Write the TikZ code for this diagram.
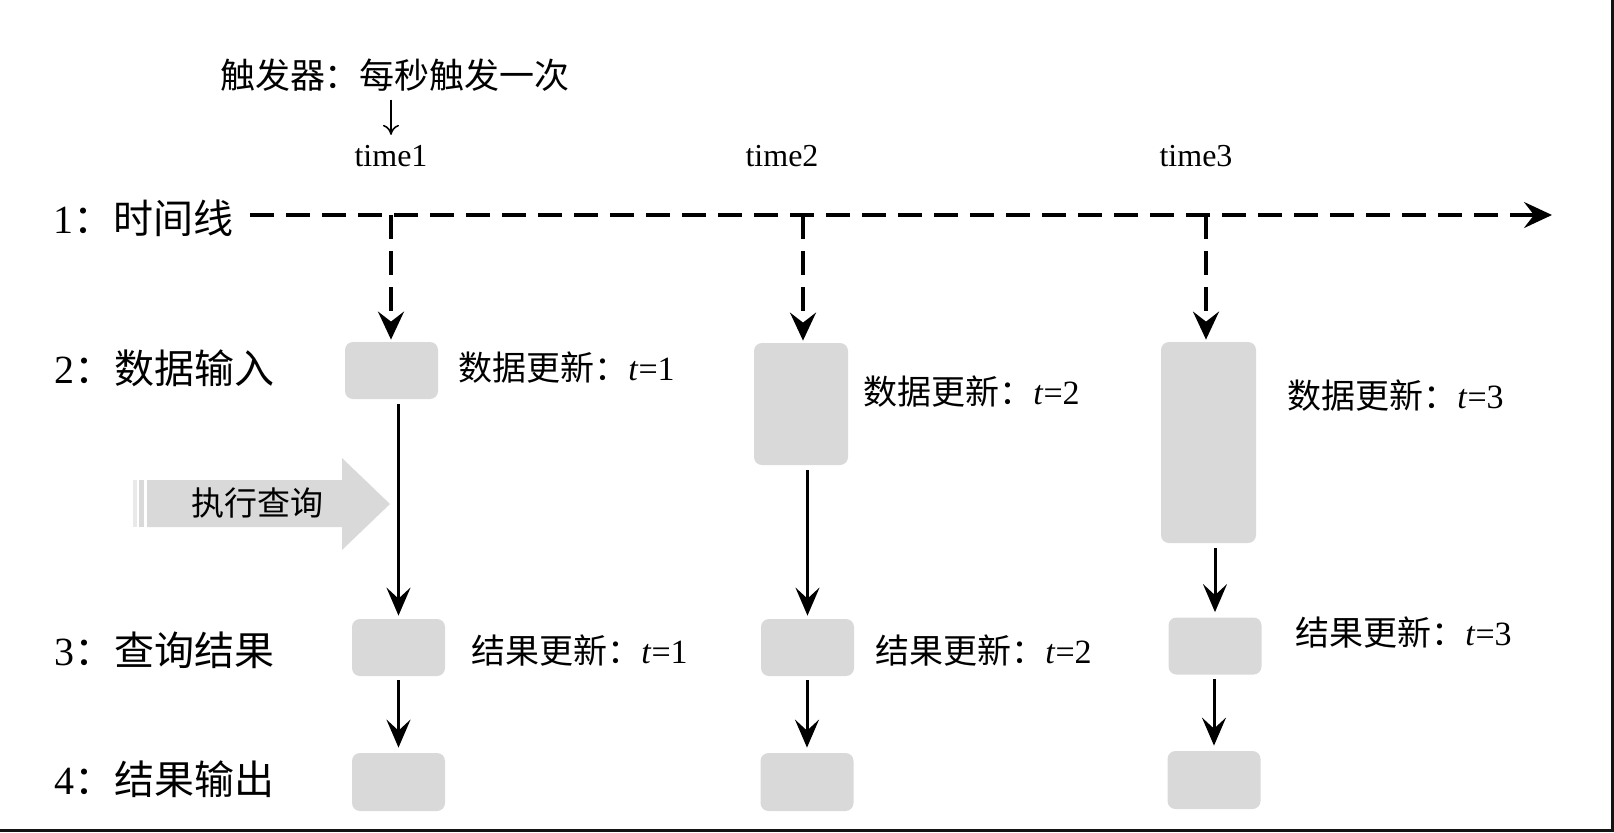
\documentclass[tikz,border=0pt]{standalone}
\usepackage{fontspec}
\setmainfont{Liberation Serif}
\newfontfamily\cjk{Noto Sans CJK SC}
\usetikzlibrary{arrows.meta}
\definecolor{boxGray}{HTML}{D9D9D9}
\definecolor{barGray}{HTML}{E9E9E9}
\newcommand{\zh}[1]{{\cjk #1}}
\newcommand{\rowFont}{\fontsize{20pt}{24pt}\selectfont}
\newcommand{\noteFont}{\fontsize{17pt}{20pt}\selectfont}
\newcommand{\timeFont}{\fontsize{16pt}{19pt}\selectfont}
\tikzstyle{grayBox}=[shape = rectangle, rounded corners = 4pt, fill = boxGray, minimum width = 46.5pt, minimum height = 28.5pt, inner sep = 0pt]
\tikzstyle{rowLabel}=[anchor = west, inner sep = 0pt, font = \rowFont]
\tikzstyle{noteLabel}=[anchor = west, inner sep = 0pt, font = \noteFont]
\tikzstyle{timeLabel}=[inner sep = 0pt, font = \timeFont]
\tikzstyle{dashLine}=[line width = 1.7pt, dash pattern = on 12pt off 6pt]
\tikzstyle{dashArrow}=[dashLine, -{Stealth[length = 14pt, width = 13pt, inset = 5pt]}]
\tikzstyle{solidArrow}=[line width = 1.5pt, -{Stealth[length = 14pt, width = 12pt, inset = 5.5pt]}]

\begin{document}
\begin{tikzpicture}[x = 0.5pt, y = -0.5pt]
\useasboundingbox (0,0) rectangle (1614,832);
\fill[black!92] (1611,0) rectangle (1614,832);
\fill[black!92] (0,829) rectangle (1614,832);
\node[inner sep = 0pt, font = \fontsize{17.5pt}{21pt}\selectfont] (trig) at (395,75) {\zh{触发器：每秒触发一次}};
\node[timeLabel] (tm1) at (391,156) {time1};
\node[timeLabel] (tm2) at (782,156) {time2};
\node[timeLabel] (tm3) at (1196,156) {time3};
\draw[line width = 0.8pt, -{To[length = 5pt, width = 8pt]}, shorten <= 4pt, shorten >= 5pt] (trig.south -| tm1.north) -- (tm1.north);
\node[rowLabel] (l1) at (53,218) {1\zh{：时间线}};
\node[rowLabel] (l2) at (54,368) {2\zh{：数据输入}};
\node[rowLabel] (l3) at (54,650) {3\zh{：查询结果}};
\node[rowLabel] (l4) at (54,779) {4\zh{：结果输出}};
\coordinate (t0) at (250,215);
\coordinate (t1) at (391,215);
\coordinate (t2) at (803,215);
\coordinate (t3) at (1206,215);
\coordinate (t4) at (1552,215);
\node[grayBox] (d1) at (391.5,370.5) {};
\node[grayBox, minimum width = 47pt, minimum height = 61pt] (d2) at (801,404) {};
\node[grayBox, minimum width = 47.5pt, minimum height = 100.5pt] (d3) at (1208.5,442.5) {};
\node[grayBox] (r1) at (398.5,647.5) {};
\node[grayBox] (r2) at (807.5,647.5) {};
\node[grayBox] (r3) at (1215,646) {};
\node[grayBox, minimum height = 29pt] (o1) at (398.5,782) {};
\node[grayBox, minimum height = 29pt] (o2) at (807,782) {};
\node[grayBox, minimum height = 29pt] (o3) at (1214,780) {};
\node[noteLabel] (n1) at (458,368) {\zh{数据更新：}\textit{t}=1};
\node[noteLabel] (n2) at (863,392) {\zh{数据更新：}\textit{t}=2};
\node[noteLabel] (n3) at (1287,396) {\zh{数据更新：}\textit{t}=3};
\node[noteLabel] (n4) at (471,651) {\zh{结果更新：}\textit{t}=1};
\node[noteLabel] (n5) at (875,651) {\zh{结果更新：}\textit{t}=2};
\node[noteLabel] (n6) at (1295,633) {\zh{结果更新：}\textit{t}=3};
\draw[dashArrow] (t0) -- (t4);
\draw[dashArrow, shorten >= 1pt] (t1) -- (t1 |- d1.north);
\draw[dashArrow, shorten >= 1pt] (t2) -- (t2 |- d2.north);
\draw[dashArrow, shorten >= 1pt] (t3) -- (t3 |- d3.north);
\draw[solidArrow, shorten <= 2.5pt, shorten >= 1.5pt] (d1.south -| r1.north) -- (r1.north);
\draw[solidArrow, shorten <= 2.5pt, shorten >= 1.5pt] (d2.south -| r2.north) -- (r2.north);
\draw[solidArrow, shorten <= 2.5pt, shorten >= 2.5pt] (d3.south -| r3.north) -- (r3.north);
\draw[solidArrow, shorten <= 2pt, shorten >= 2.5pt] (r1.south -| o1.north) -- (o1.north);
\draw[solidArrow, shorten <= 2pt, shorten >= 2.5pt] (r2.south -| o2.north) -- (o2.north);
\draw[solidArrow, shorten <= 2pt, shorten >= 2.5pt] (r3.south -| o3.north) -- (o3.north);
\fill[barGray] (133,480) rectangle (137,527);
\fill[boxGray] (139,480) rectangle (144,527);
\fill[boxGray] (147,480) -- (342,480) -- (342,458) -- (390,504) -- (342,550) -- (342,527) -- (147,527) -- cycle;
\node[inner sep = 0pt, font = \fontsize{16.5pt}{20pt}\selectfont] (q) at (257,503) {\zh{执行查询}};
\end{tikzpicture}
\end{document}
